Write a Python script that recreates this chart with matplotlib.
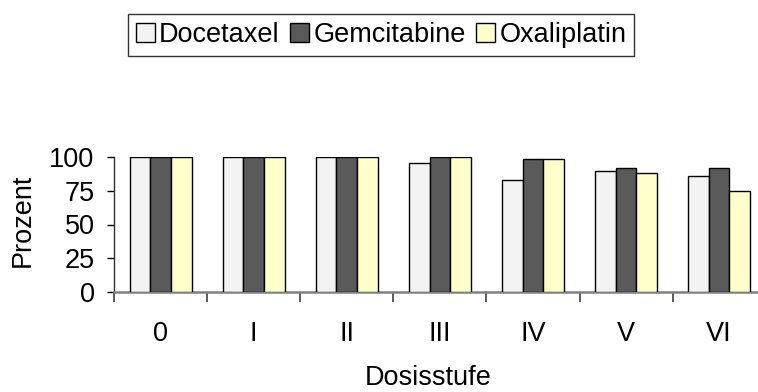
import matplotlib
matplotlib.use("Agg")
import matplotlib.pyplot as plt
import numpy as np

plt.rcParams['font.family'] = ['Liberation Sans', 'DejaVu Sans']

categories = ["0", "I", "II", "III", "IV", "V", "VI"]
docetaxel = [100, 100, 100, 96, 83, 90, 86]
gemcitabine = [100, 100, 100, 100, 99, 92, 92]
oxaliplatin = [100, 100, 100, 100, 99, 88, 75]

series = [
    ("Docetaxel", docetaxel, "#f3f3f3"),
    ("Gemcitabine", gemcitabine, "#5a5a5a"),
    ("Oxaliplatin", oxaliplatin, "#ffffcc"),
]

FS = 19.5
W, H = 758, 392
fig = plt.figure(figsize=(W / 100, H / 100), dpi=100)
ax = fig.add_axes([114 / W, (H - 291.7) / H, 651.7 / W, 134.4 / H])

x = np.arange(len(categories))
bw = 0.222
handles = []
for i, (name, vals, col) in enumerate(series):
    b = ax.bar(x + (i - 1) * bw, vals, width=bw, color=col,
               edgecolor="black", linewidth=1.0, label=name, zorder=3)
    handles.append(b)

ax.set_xlim(-0.5, len(categories) - 0.5)
ax.set_ylim(0, 100)
ax.set_yticks([0, 25, 50, 75, 100])
ax.tick_params(axis="y", labelsize=FS, length=5, width=1, pad=9, colors="black")

ax.set_xticks(x)
ax.set_xticklabels(categories)
ax.set_xticks(np.arange(-0.5, len(categories), 1.0), minor=True)
ax.tick_params(axis="x", which="major", length=0, labelsize=FS, pad=21)
ax.tick_params(axis="x", which="minor", length=7, width=1.2, color="#404040")

for s in ("top", "right"):
    ax.spines[s].set_visible(False)
ax.spines["left"].set_color("#303030")
ax.spines["left"].set_linewidth(1.0)
ax.spines["bottom"].set_color("#808080")
ax.spines["bottom"].set_linewidth(1.8)

fig.text(22.5 / W, 1 - 220 / H, "Prozent", rotation=90, ha="center",
         va="center", fontsize=FS)
fig.text(428 / W, 1 - 378 / H, "Dosisstufe", ha="center", va="center",
         fontsize=FS)

leg = fig.legend(handles=handles, loc="center",
                 bbox_to_anchor=(381 / W, 1 - 35 / H), ncol=3, fontsize=FS,
                 frameon=True, fancybox=False, shadow=False,
                 handlelength=0.7, handleheight=0.7, handletextpad=0.15,
                 columnspacing=0.4, borderpad=0.3, borderaxespad=0)
leg.get_frame().set_edgecolor("black")
leg.get_frame().set_linewidth(1.0)

fig.savefig("out.png", dpi=100)
